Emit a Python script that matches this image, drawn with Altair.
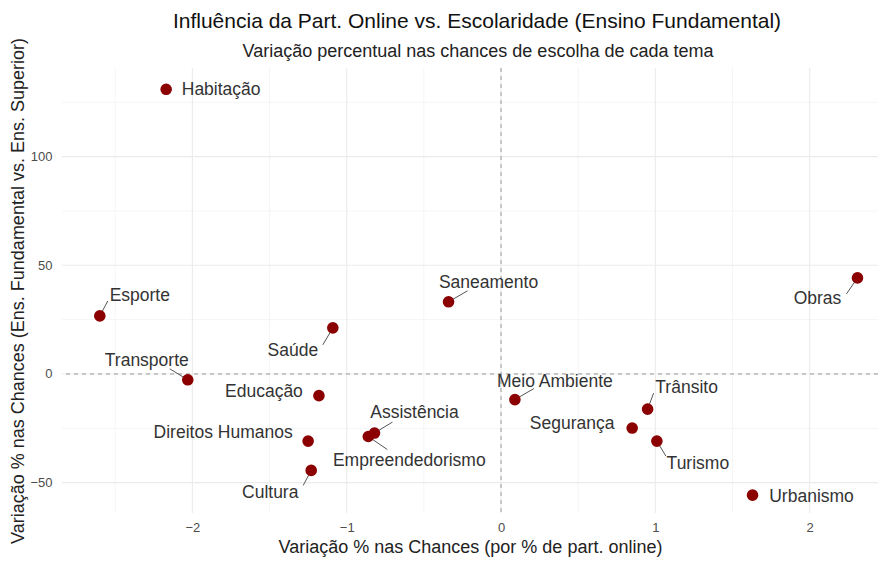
import altair as alt
import pandas as pd

# ---- data ----
temas = ["Habitação", "Esporte", "Transporte", "Saúde", "Educação", "Direitos Humanos",
         "Cultura", "Assistência", "Empreendedorismo", "Saneamento", "Meio Ambiente",
         "Trânsito", "Segurança", "Turismo", "Urbanismo", "Obras"]
var_online = [-2.17, -2.60, -2.03, -1.09, -1.18, -1.25, -1.23, -0.82, -0.86, -0.34,
              0.09, 0.95, 0.85, 1.01, 1.63, 2.31]
var_escol = [131.0, 26.7, -2.7, 21.2, -10.0, -30.9, -44.4, -27.2, -28.8, 33.2,
             -11.8, -16.2, -24.9, -30.9, -55.8, 44.2]

# label placement (pixel offsets of the repelled labels, ggrepel-like)
lab_dx = [55, 40, -41, -40, -55, -85, -41, 40, 41, 40, 40, 39, -60, 41, 59, -40]
lab_dy = [1, -20, -19, 23, -4, -8, 23, -20, 24, -19, -18, -21, -4, 23, 2, 21]
seg_dx = [0, 8, -18, -10, 0, 0, -8, 18, 19, 19, 19, 6, 0, 9, 0, -11]
seg_dy = [0, -15, -11, 17, 0, 0, 15, -11, 13, -11, -11, -16, 0, 15, 0, 16]

x_ticks = [-2, -1, 0, 1, 2]
x_minor = [-2.5, -1.5, -0.5, 0.5, 1.5]
y_ticks = [-50, 0, 50, 100]
y_minor = [-25, 25, 75, 125]

TITLE = "Influência da Part. Online vs. Escolaridade (Ensino Fundamental)"
SUBTITLE = "Variação percentual nas chances de escolha de cada tema"
XTITLE = "Variação % nas Chances (por % de part. online)"
YTITLE = "Variação % nas Chances (Ens. Fundamental vs. Ens. Superior)"

# ---- layout ----
W, H = 816, 445
X_DOM = [-2.845, 2.443]
Y_DOM = [-64.0, 140.8]
px_x = W / (X_DOM[1] - X_DOM[0])
px_y = H / (Y_DOM[1] - Y_DOM[0])

df = pd.DataFrame({"tema": temas, "x": var_online, "y": var_escol,
                   "ldx": lab_dx, "ldy": lab_dy, "sdx": seg_dx, "sdy": seg_dy})
df["lx"] = df["x"] + df["ldx"] / px_x
df["ly"] = df["y"] - df["ldy"] / px_y
df["sx"] = df["x"] + df["sdx"] / px_x
df["sy"] = df["y"] - df["sdy"] / px_y
seg_df = df[(df["sdx"] != 0) | (df["sdy"] != 0)]

xs = alt.Scale(domain=X_DOM, nice=False, zero=False)
ys = alt.Scale(domain=Y_DOM, nice=False, zero=False)

FONT = "Liberation Sans"

xgrid_major = alt.Chart(pd.DataFrame({"v": x_ticks})).mark_rule(
    color="#ebebeb", strokeWidth=1.1).encode(x=alt.X("v:Q", scale=xs))
xgrid_minor = alt.Chart(pd.DataFrame({"v": x_minor})).mark_rule(
    color="#f3f3f3", strokeWidth=0.8).encode(x=alt.X("v:Q", scale=xs))
ygrid_major = alt.Chart(pd.DataFrame({"v": y_ticks})).mark_rule(
    color="#ebebeb", strokeWidth=1.1).encode(y=alt.Y("v:Q", scale=ys))
ygrid_minor = alt.Chart(pd.DataFrame({"v": y_minor})).mark_rule(
    color="#f3f3f3", strokeWidth=0.8).encode(y=alt.Y("v:Q", scale=ys))

zero_x = alt.Chart(pd.DataFrame({"v": [0]})).mark_rule(
    color="#9a9a9a", strokeDash=[4, 4], strokeWidth=1).encode(x=alt.X("v:Q", scale=xs))
zero_y = alt.Chart(pd.DataFrame({"v": [0]})).mark_rule(
    color="#9a9a9a", strokeDash=[4, 4], strokeWidth=1).encode(y=alt.Y("v:Q", scale=ys))

segs = alt.Chart(seg_df).mark_rule(color="#555555", strokeWidth=1).encode(
    x=alt.X("x:Q", scale=xs), y=alt.Y("y:Q", scale=ys), x2="sx:Q", y2="sy:Q")

points = alt.Chart(df).mark_circle(size=135, color="#8B0000", opacity=1).encode(
    x=alt.X("x:Q", scale=xs,
            axis=alt.Axis(values=x_ticks, format="d", grid=False, domain=False, ticks=False,
                          labelColor="#4d4d4d", labelFontSize=13, labelPadding=8,
                          labelFont=FONT, title=XTITLE,
                          titleFont=FONT, titleFontSize=18, titleFontWeight="normal",
                          titleColor="#222222", titlePadding=4)),
    y=alt.Y("y:Q", scale=ys,
            axis=alt.Axis(values=y_ticks, format="d", grid=False, domain=False, ticks=False,
                          labelColor="#4d4d4d", labelFontSize=13, labelPadding=10,
                          labelFont=FONT, title=YTITLE,
                          titleFont=FONT, titleFontSize=18, titleFontWeight="normal",
                          titleColor="#222222", titlePadding=2)),
)

labels = alt.Chart(df).mark_text(font=FONT, fontSize=17.5, color="#333333",
                                 align="center", baseline="middle").encode(
    x=alt.X("lx:Q", scale=xs), y=alt.Y("ly:Q", scale=ys), text="tema:N")

title_mark = alt.Chart(pd.DataFrame({"t": [TITLE]})).mark_text(
    font=FONT, fontSize=21, color="#111111", align="center", baseline="middle").encode(
    x=alt.value(415), y=alt.value(-46), text="t:N")
subtitle_mark = alt.Chart(pd.DataFrame({"t": [SUBTITLE]})).mark_text(
    font=FONT, fontSize=18, color="#222222", align="center", baseline="middle").encode(
    x=alt.value(416), y=alt.value(-16), text="t:N")

chart = alt.layer(
    xgrid_minor, ygrid_minor, xgrid_major, ygrid_major, zero_x, zero_y,
    segs, points, labels, title_mark, subtitle_mark
).properties(
    width=W, height=H,
    autosize=alt.AutoSizeParams(type="none"),
    padding={"left": 54, "top": 60, "right": 0, "bottom": 44},
).configure_view(stroke=None)

chart.save("out.html", embed_options={"renderer": "svg", "actions": False})
